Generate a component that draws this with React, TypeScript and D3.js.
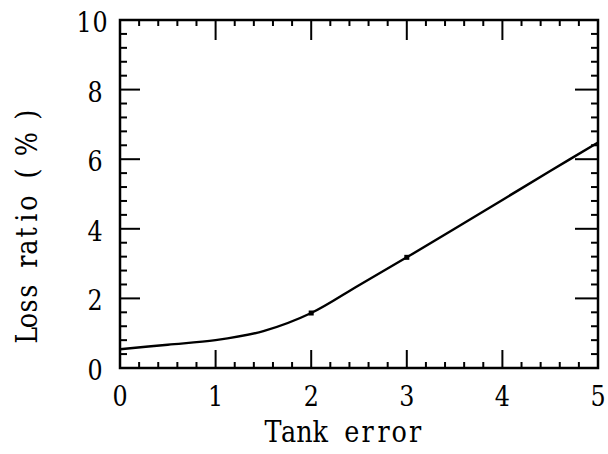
import React, { useEffect, useRef } from "react";
import * as d3 from "d3";

// Loss ratio (%) as a function of tank error
const tankError = [0, 0.5, 1, 1.5, 2, 2.5, 3, 3.5, 4, 4.5, 5];
const lossRatio = [0.54, 0.67, 0.8, 1.06, 1.58, 2.38, 3.18, 4.0, 4.83, 5.66, 6.48];
// Marked sample points on the curve
const markedX = [2, 3];
const markedY = [1.58, 3.18];

const xTickValues = [0, 1, 2, 3, 4, 5];
const yTickValues = [0, 2, 4, 6, 8, 10];
const xLabel = "Tank error";
const yLabel = "Loss ratio ( % )";

const W = 608;
const H = 454;
const FONT = "'DejaVu Serif', 'Liberation Serif', serif";

type Sel = d3.Selection<SVGGElement, unknown, null, undefined>;

// Typewriter-style text: every character sits in a fixed-width cell,
// glyphs are condensed horizontally.
function monoText(
  parent: Sel,
  text: string,
  x: number,
  y: number,
  opts: { size: number; cell: number; sx?: number; anchor?: "middle" | "end"; rotate?: number }
) {
  const sx = opts.sx ?? 0.85;
  const n = text.length;
  const total = n * opts.cell;
  const start = opts.anchor === "end" ? -total : -total / 2;
  const g = parent
    .append("g")
    .attr("transform", `translate(${x},${y}) rotate(${opts.rotate ?? 0}) scale(${sx},1)`);
  text.split("").forEach((ch, i) => {
    if (ch === " ") return;
    g.append("text")
      .attr("x", (start + (i + 0.5) * opts.cell) / sx)
      .attr("y", 0)
      .attr("text-anchor", "middle")
      .attr("font-family", FONT)
      .attr("font-size", opts.size)
      .attr("fill", "#000")
      .text(ch);
  });
  return g;
}

export default function App() {
  const ref = useRef<SVGSVGElement | null>(null);

  useEffect(() => {
    const svg = d3.select(ref.current);
    svg.selectAll("*").remove();

    const left = 120, right = 598, top = 20, bottom = 368;
    const x = d3.scaleLinear().domain([0, 5]).range([left, right]);
    const y = d3.scaleLinear().domain([0, 10]).range([bottom, top]);

    const g = svg.append("g") as unknown as Sel;

    // minor and major ticks on all four sides, pointing inward
    const xMinor = d3.range(0, 5.0001, 0.2).map((v) => +v.toFixed(2));
    const yMinor = d3.range(0, 10.0001, 0.4).map((v) => +v.toFixed(2));
    const isMajorX = (v: number) => Math.abs(v - Math.round(v)) < 1e-6;
    const isMajorY = (v: number) => Math.abs(v / 2 - Math.round(v / 2)) < 1e-6;

    const addLine = (x1: number, y1: number, x2: number, y2: number, w = 2) =>
      g.append("line")
        .attr("x1", x1).attr("y1", y1).attr("x2", x2).attr("y2", y2)
        .attr("stroke", "#000").attr("stroke-width", w);

    xMinor.forEach((v) => {
      if (v <= 0 || v >= 5) return;
      addLine(x(v), bottom, x(v), bottom - (isMajorX(v) ? 18 : 6));
      addLine(x(v), top, x(v), top + (isMajorX(v) ? 20 : 6));
    });
    yMinor.forEach((v) => {
      if (v <= 0 || v >= 10) return;
      const major = isMajorY(v);
      addLine(left, y(v), left + (major ? 20 : 7), y(v));
      addLine(right, y(v), right - (major ? 23 : 7), y(v));
    });

    // frame
    g.append("rect")
      .attr("x", left).attr("y", top)
      .attr("width", right - left).attr("height", bottom - top)
      .attr("fill", "none").attr("stroke", "#000").attr("stroke-width", 2.5);

    // tick labels
    xTickValues.forEach((d) => {
      monoText(g, String(d), x(d), 406, { size: 28, cell: 16 });
    });
    yTickValues.forEach((d) => {
      monoText(g, String(d), d === 10 ? 108 : 103, y(d) + 12, {
        size: 28,
        cell: 16,
        anchor: "end",
      });
    });

    // axis titles
    monoText(g, xLabel, 344, 442, { size: 30, cell: 15.8 });
    monoText(g, yLabel, 37, 225, { size: 30, cell: 14.7, rotate: -90 });

    // curve
    const pts = tankError.map((t, i) => [t, lossRatio[i]] as [number, number]);
    const line = d3.line<[number, number]>()
      .x((d) => x(d[0]))
      .y((d) => y(d[1]))
      .curve(d3.curveCatmullRom.alpha(0.5));
    g.append("path")
      .attr("d", line(pts) as string)
      .attr("fill", "none")
      .attr("stroke", "#000")
      .attr("stroke-width", 2.4);

    // marked points
    g.selectAll("rect.pt")
      .data(markedX.map((v, i) => [v, markedY[i]]))
      .join("rect")
      .attr("class", "pt")
      .attr("x", (d) => x(d[0]) - 2.5)
      .attr("y", (d) => y(d[1]) - 2.5)
      .attr("width", 5)
      .attr("height", 5)
      .attr("fill", "#000");
  }, []);

  return (
    <svg
      ref={ref}
      width={W}
      height={H}
      style={{ position: "absolute", left: 0, top: 0, background: "#fff" }}
    />
  );
}
